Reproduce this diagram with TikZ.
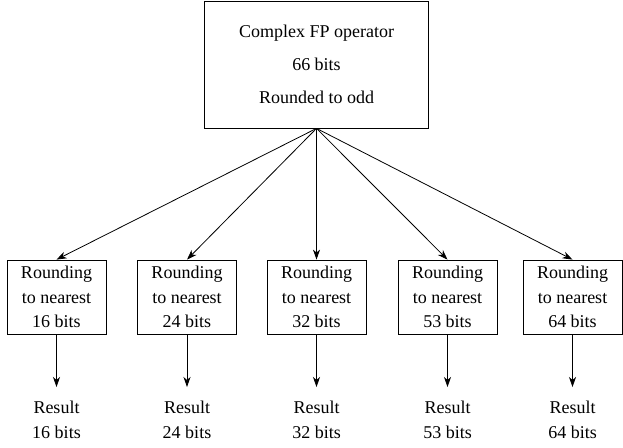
\documentclass[tikz,border=0pt]{standalone}
\usepackage{fontspec}
\setmainfont{Liberation Serif}
\usetikzlibrary{arrows.meta, positioning}

\tikzset{
	roundBox/.style = {draw, minimum width = 99pt, minimum height = 74pt, inner sep = 0pt, align = center, font = \fontsize{18}{24.5}\selectfont},
	resultBox/.style = {inner xsep = 0pt, inner ysep = 14pt, align = center, font = \fontsize{18}{25}\selectfont}
}

\begin{document}
\begin{tikzpicture}[x = 1pt, y = -1pt, line width = 0.8pt, font = \fontsize{18}{22}\selectfont, >={Stealth[length = 10pt, width = 7pt, inset = 3pt]}]
	\def\yRound{297}
	\def\yResult{387}

	\useasboundingbox (0,0) rectangle (623,447);

	\node [draw, minimum width = 224pt, minimum height = 127pt, align = center] (operator) at (316.5,64.5) {Complex FP operator\\[11pt]66 bits\\[11pt]Rounded to odd};

	\foreach \xC/\nBits in {56.5/16, 187/24, 316.5/32, 447.5/53, 572.5/64} {
		\node [roundBox] (round\nBits) at (\xC,\yRound) {Rounding\\to nearest\\\nBits~bits};
		\node [resultBox, anchor = north] (result\nBits) at (\xC,\yResult) {Result\\\nBits~bits};
		\draw [->] (operator.south) -- (round\nBits.north);
		\draw [->] (round\nBits.south) -- (result\nBits.north);
	}
\end{tikzpicture}
\end{document}
